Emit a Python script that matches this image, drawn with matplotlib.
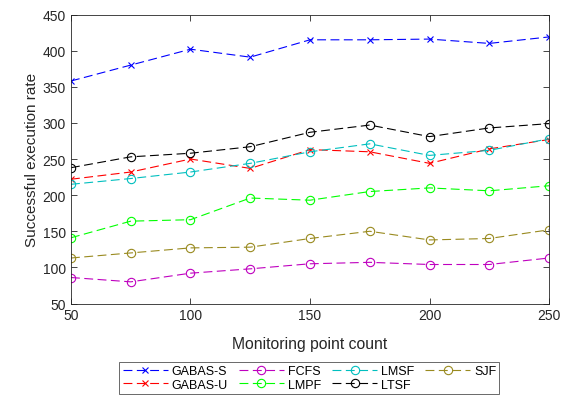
import matplotlib
matplotlib.use("Agg")
import matplotlib.pyplot as plt

x = [50, 75, 100, 125, 150, 175, 200, 225, 250]
gabas_s = [358, 380, 402, 391, 415, 415, 416, 410, 419]
gabas_u = [222, 232, 250, 237, 263, 260, 244, 264, 277]
fcfs = [86, 80, 92, 98, 105, 107, 104, 104, 113]
lmpf = [141, 164, 166, 196, 193, 205, 210, 206, 213]
lmsf = [215, 223, 232, 244, 260, 271, 255, 262, 278]
ltsf = [238, 253, 258, 267, 287, 297, 281, 293, 299]
sjf = [113, 120, 127, 128, 140, 150, 138, 140, 152]

plt.rcParams['font.family'] = ['Liberation Sans', 'DejaVu Sans']

fig = plt.figure(figsize=(5.71, 4.02), dpi=100)
ax = fig.add_axes([0.1243, 0.2425, 0.8372, 0.7189])

olive = (0.6, 0.54, 0.12)
series = [
    ("GABAS-S", gabas_s, 'b', 'x'),
    ("GABAS-U", gabas_u, 'r', 'x'),
    ("FCFS", fcfs, 'm', 'o'),
    ("LMPF", lmpf, (0, 1, 0), 'o'),
    ("LMSF", lmsf, 'c', 'o'),
    ("LTSF", ltsf, 'k', 'o'),
    ("SJF", sjf, olive, 'o'),
]
for name, ys, c, m in series:
    ax.plot(x, ys, linestyle=(0, (8, 4)), color=c, marker=m, lw=0.8,
            markersize=6 if m == 'o' else 4.5, markerfacecolor='none',
            markeredgewidth=0.8, label=name)

ax.set_xlim(50, 250)
ax.set_ylim(50, 450)
ax.set_xticks([50, 100, 150, 200, 250])
ax.set_yticks(range(50, 451, 50))
ax.tick_params(direction='in', top=True, right=True, labelsize=10,
               colors=(0.15, 0.15, 0.15), length=4, width=0.6)
for s in ax.spines.values():
    s.set_color((0.15, 0.15, 0.15))
    s.set_linewidth(0.6)
ax.set_xlabel("Monitoring point count", fontsize=11.3, color=(0.15, 0.15, 0.15), labelpad=10)
ax.set_ylabel("Successful execution rate", fontsize=11, color=(0.15, 0.15, 0.15), labelpad=2.5)

leg = fig.legend(loc='upper center', bbox_to_anchor=(0.542, 0.0975), ncol=4,
                 fontsize=9, frameon=True, fancybox=False, edgecolor=(0.15, 0.15, 0.15),
                 handlelength=3.6, handletextpad=0.3, columnspacing=0.9,
                 labelspacing=0.15, borderpad=0.25, borderaxespad=0)
leg.get_frame().set_linewidth(0.6)

fig.savefig("out.png", dpi=100)
